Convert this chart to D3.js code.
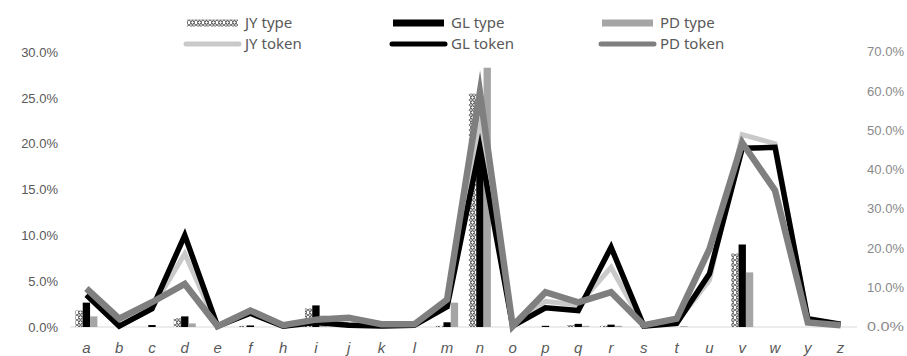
<!DOCTYPE html>
<html>
<head>
<meta charset="utf-8">
<script src="https://cdn.jsdelivr.net/npm/d3@7"></script>
<style>
  body { margin: 0; background: #fff; }
  svg { font-family: "Noto Sans", "Open Sans", sans-serif; }
</style>
</head>
<body>
<script>
// letters on the x axis (no g, x)
var cats = ["a","b","c","d","e","f","h","i","j","k","l","m","n","o","p","q","r","s","t","u","v","w","y","z"];

// type shares, right axis (%)
var jyType = [4.2,0,0,2.2,0,0.3,0,4.7,0,0,0,0.3,59.4,0,0,0.5,0.3,0,0,0,18.7,0,0,0];
var glType = [6.2,0,0.5,2.7,0,0.4,0,5.5,0,0,0,1.2,54.5,0,0.3,0.8,0.6,0.2,0,0,21.0,0,0,0];
var pdType = [2.7,0,0,0.9,0,0,0,2.9,0,0,0,6.2,66.0,0,0,0.3,0.3,0,0.2,0,13.9,0,0,0];

// token shares, left axis (%)
var jyToken = [3.6,0.1,2.0,8.0,0,1.6,0.1,0.6,0.3,0.1,0.2,2.3,22.0,0,2.8,2.4,6.5,0.1,0.5,5.1,21.0,20.0,0.8,0.3];
var glToken = [3.5,0.1,2.0,10.0,0.1,1.5,0.1,0.5,0.2,0.1,0.2,2.2,19.6,0.1,2.1,1.8,8.7,0.1,0.4,5.8,19.5,19.6,0.9,0.3];
var pdToken = [4.2,0.9,2.7,4.7,0.1,1.8,0.2,0.8,1.0,0.3,0.3,3.0,25.6,0.1,3.8,2.7,3.8,0.2,0.9,8.5,20.1,14.9,0.5,0.2];

var leftTicks = [0,5,10,15,20,25,30];
var rightTicks = [0,10,20,30,40,50,60,70];

var width = 907, height = 356;

var svg = d3.select("body").append("svg")
    .attr("width", width)
    .attr("height", height);

var defs = svg.append("defs");
var pat = defs.append("pattern")
    .attr("id", "jyPat")
    .attr("patternUnits", "userSpaceOnUse")
    .attr("width", 7).attr("height", 5);
pat.append("rect").attr("width", 7).attr("height", 5).attr("fill", "#fff");
pat.append("path")
    .attr("d", "M0,0L7,5M7,0L0,5")
    .attr("stroke", "#000").attr("stroke-width", 0.6);
pat.append("circle")
    .attr("cx", 3.5).attr("cy", 2.5).attr("r", 1.8)
    .attr("fill", "#fff").attr("stroke", "#000").attr("stroke-width", 0.8);

var x = d3.scaleBand().domain(cats).range([70, 857]);
var x1 = d3.scaleBand().domain(["jy","gl","pd"]).range([-11, 11]);
var yL = d3.scaleLinear().domain([0, 30]).range([327, 52]);
var yR = d3.scaleLinear().domain([0, 70]).range([327, 52]);

// baseline
svg.append("line")
    .attr("x1", 70).attr("x2", 857)
    .attr("y1", yL(0)).attr("y2", yL(0))
    .attr("stroke", "#d9d9d9").attr("stroke-width", 1);

// y axes (labels only)
var axL = svg.append("g").attr("transform", "translate(58,0)")
    .call(d3.axisLeft(yL).tickValues(leftTicks).tickSize(0).tickPadding(0)
        .tickFormat(function(d) { return d.toFixed(1) + "%"; }));
axL.select(".domain").remove();
axL.selectAll("text").attr("fill", "#595959").style("font-size", "13px");

var axR = svg.append("g").attr("transform", "translate(867,0)")
    .call(d3.axisRight(yR).tickValues(rightTicks).tickSize(0).tickPadding(0)
        .tickFormat(function(d) { return d.toFixed(1) + "%"; }));
axR.select(".domain").remove();
axR.selectAll("text").attr("fill", "#8a8a8a").style("font-size", "12px")
    .attr("textLength", 37).attr("lengthAdjust", "spacingAndGlyphs");

// x axis labels
var axX = svg.append("g").attr("transform", "translate(0,342)")
    .call(d3.axisBottom(x).tickSize(0).tickPadding(0));
axX.select(".domain").remove();
axX.selectAll("text").attr("fill", "#595959")
    .style("font-size", "15px").style("font-style", "italic")
    .attr("dy", "0.71em");

// bars
var barSeries = [
  {key: "jy", values: jyType, fill: "url(#jyPat)"},
  {key: "gl", values: glType, fill: "#000"},
  {key: "pd", values: pdType, fill: "#a5a5a5"}
];
barSeries.forEach(function(s) {
  svg.append("g").selectAll("rect")
    .data(s.values)
    .enter().append("rect")
    .attr("x", function(d, i) { return x(cats[i]) + x.bandwidth() / 2 + x1(s.key); })
    .attr("width", x1.bandwidth())
    .attr("y", function(d) { return yR(d); })
    .attr("height", function(d) { return yR(0) - yR(d); })
    .attr("fill", s.fill);
});

// lines
var line = d3.line()
    .x(function(d, i) { return x(cats[i]) + x.bandwidth() / 2; })
    .y(function(d) { return yL(d); });

var lineSeries = [
  {values: jyToken, color: "#c9c9c9", w: 5},
  {values: glToken, color: "#000", w: 5.5},
  {values: pdToken, color: "#7f7f7f", w: 6.5}
];
lineSeries.forEach(function(s) {
  svg.append("path")
    .datum(s.values)
    .attr("d", line)
    .attr("fill", "none")
    .attr("stroke", s.color)
    .attr("stroke-width", s.w)
    .attr("stroke-linejoin", "miter")
    .attr("stroke-miterlimit", 10);
});

// legend
var legend = svg.append("g").style("font-size", "15px").attr("fill", "#595959");
var legItems = [
  {label: "JY type", x: 187, y: 23, kind: "rect", fill: "url(#jyPat)"},
  {label: "GL type", x: 393, y: 23, kind: "rect", fill: "#000"},
  {label: "PD type", x: 602, y: 23, kind: "rect", fill: "#a5a5a5"},
  {label: "JY token", x: 187, y: 44, kind: "line", fill: "#c9c9c9"},
  {label: "GL token", x: 393, y: 44, kind: "line", fill: "#000"},
  {label: "PD token", x: 602, y: 44, kind: "line", fill: "#7f7f7f"}
];
legItems.forEach(function(d) {
  if (d.kind === "rect") {
    legend.append("rect")
      .attr("x", d.x).attr("y", d.y - 3.5)
      .attr("width", 51).attr("height", 7)
      .attr("fill", d.fill);
  } else {
    legend.append("line")
      .attr("x1", d.x - 1).attr("x2", d.x + 52)
      .attr("y1", d.y).attr("y2", d.y)
      .attr("stroke", d.fill).attr("stroke-width", 5)
      .attr("stroke-linecap", "round");
  }
  legend.append("text")
    .attr("x", d.x + 58).attr("y", d.y)
    .attr("dy", "0.35em")
    .text(d.label);
});
</script>
</body>
</html>
